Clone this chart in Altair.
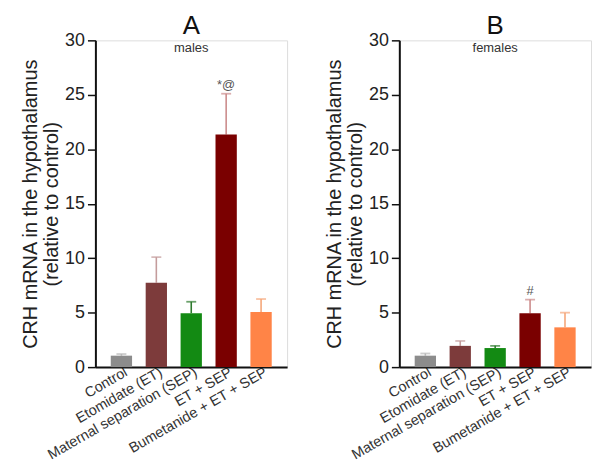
import altair as alt
import pandas as pd

groups = ["Control", "Etomidate (ET)", "Maternal  separation (SEP)", "ET + SEP", "Bumetanide + ET + SEP"]
bar_colors = ["#8c8c8c", "#7d3b3b", "#138a13", "#7a0000", "#ff8447"]
err_colors = ["#b8b8b8", "#c49c9c", "#2e7a2e", "#cc8c8c", "#f5a77a"]

males_mean = [1.05, 7.75, 4.95, 21.35, 5.05]
males_err = [1.2, 10.1, 6.0, 25.1, 6.25]
males_annot = ["", "", "", "*@", ""]

females_mean = [1.05, 1.95, 1.75, 4.95, 3.65]
females_err = [1.25, 2.4, 1.95, 6.2, 5.0]
females_annot = ["", "", "", "#", ""]

FONT = "Liberation Sans"
W, H = 193, 329


def panel(mean, err, annot, letter, sub):
    df = pd.DataFrame({"group": groups, "mean": mean, "err": err, "annot": annot,
                       "ecol": err_colors})
    x = alt.X("group:N", sort=groups, title=None,
              scale=alt.Scale(paddingInner=0.39, paddingOuter=0.44),
              axis=alt.Axis(labelAngle=-30, labelAlign="right", labelBaseline="middle",
                            labelFontSize=14.5, labelColor="#333", ticks=False,
                            labelPadding=4, labelOffset=5, domainColor="#111", domainWidth=2,
                            labelFont=FONT))
    y = alt.Y("mean:Q", scale=alt.Scale(domain=[0, 30], nice=False),
              title=["CRH mRNA in the hypothalamus", "(relative to control)"],
              axis=alt.Axis(values=[0, 5, 10, 15, 20, 25, 30], grid=False,
                            labelFontSize=18, titleFontSize=20, titleFontWeight="normal",
                            titleColor="#222", labelColor="#222", tickColor="#111",
                            tickSize=8, tickWidth=1.5, domainColor="#111", domainWidth=2,
                            labelPadding=3, titlePadding=3, labelFont=FONT, titleFont=FONT,
                            titleLineHeight=21))
    base = alt.Chart(df)
    bars = base.mark_bar().encode(
        x=x, y=y,
        color=alt.Color("group:N", scale=alt.Scale(domain=groups, range=bar_colors), legend=None),
    )
    rule = base.mark_rule(strokeWidth=1.6).encode(
        x=alt.X("group:N", sort=groups), y="mean:Q", y2="err:Q",
        color=alt.Color("ecol:N", scale=None),
    )
    cap = base.mark_tick(size=10, thickness=1.8).encode(
        x=alt.X("group:N", sort=groups), y="err:Q",
        color=alt.Color("ecol:N", scale=None),
    )
    txt = base.mark_text(dy=-9, fontSize=13, color="#555", font=FONT).encode(
        x=alt.X("group:N", sort=groups), y="err:Q", text="annot:N",
    )
    head = alt.Chart(pd.DataFrame({"t": [letter]})).mark_text(
        fontSize=26, color="#111", font=FONT, baseline="top", align="center"
    ).encode(x=alt.value(W / 2), y=alt.value(-27), text="t:N")
    subtxt = alt.Chart(pd.DataFrame({"t": [sub]})).mark_text(
        fontSize=13, color="#333", font=FONT, baseline="top", align="center"
    ).encode(x=alt.value(W / 2), y=alt.value(2), text="t:N")
    return alt.layer(rule, bars, cap, txt, head, subtxt).properties(width=W, height=H)


chart = alt.hconcat(
    panel(males_mean, males_err, males_annot, "A", "males"),
    panel(females_mean, females_err, females_annot, "B", "females"),
    spacing=36,
).properties(
    padding={"left": 12, "top": 3, "right": 0, "bottom": 0}
).configure_view(stroke=None).configure(background="white")

chart.save("out.html", embed_options={"renderer": "svg", "actions": False})
